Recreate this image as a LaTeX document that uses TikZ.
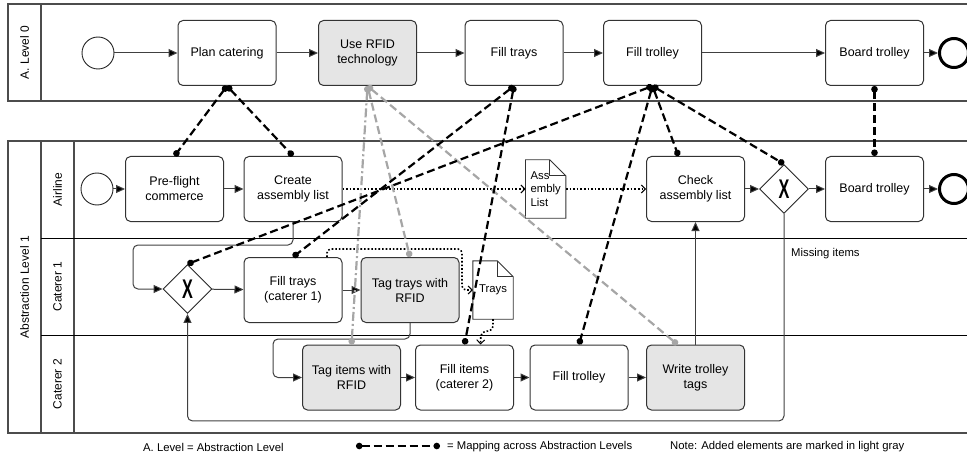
\documentclass[tikz,border=0pt]{standalone}
\usepackage{fontspec}
\usepackage{graphicx}
\setmainfont{Liberation Sans}
\usetikzlibrary{arrows.meta,shapes.geometric}

\begin{document}
\begin{tikzpicture}[x=1pt, y=-1pt,
  task/.style={draw=black!80, line width=1pt, rounded corners=5pt,
    minimum width=98pt, minimum height=65pt, align=center, inner sep=2pt,
    font=\fontsize{12.5}{15}\selectfont},
  added/.style={task, fill=gray!20},
  startev/.style={circle, draw=black!85, line width=0.9pt, minimum size=32pt, inner sep=0pt},
  endev/.style={circle, draw=black, line width=3pt, minimum size=29pt, inner sep=0pt},
  gateway/.style={diamond, draw=black!85, line width=0.9pt, minimum width=49pt,
    minimum height=49pt, inner sep=0pt, font=\fontsize{27}{27}\selectfont},
  docnode/.style={minimum width=40pt, minimum height=58pt, inner sep=4pt,
    font=\fontsize{11.3}{13.5}\selectfont},
  docline/.style={draw=black!80, line width=0.9pt},
  pool/.style={draw=black!70, line width=1.4pt},
  lanelabel/.style={rotate=90, font=\fontsize{12}{14}\selectfont},
  flow/.style={draw=black!75, line width=1pt, rounded corners=5pt,
    -{Triangle[length=9pt,width=8pt,fill=black]}},
  data/.style={line width=1.6pt, dash pattern=on 1.6pt off 2pt, rounded corners=4pt,
    -{Straight Barb[length=4pt,width=8pt,line width=1pt]}},
  map/.style={line width=2.2pt, dash pattern=on 8pt off 4pt,
    {Circle[length=6.5pt]}-{Circle[length=6.5pt]}},
  graymap/.style={map, color=black!35},
  legend/.style={anchor=west, inner sep=0pt, font=\fontsize{11.3}{13}\selectfont},
]

\useasboundingbox (0,0) rectangle (967,468);

% Pools and lanes
\draw[pool] (8,4) rectangle (972,101);
\draw[pool] (41,4) -- (41,101);
\draw[pool] (8,141) rectangle (972,433);
\draw[pool] (41,141) -- (41,433);
\draw[pool] (74,141) -- (74,433);
\draw[black, line width=0.9pt] (41,238) -- (972,238);
\draw[black, line width=0.9pt] (41,335) -- (972,335);

\node[lanelabel] (lvl0) at (24.5,52.5) {A. Level 0};
\node[lanelabel] (lvl1) at (24.5,287) {Abstraction Level 1};
\node[lanelabel] (airline) at (57.5,189.5) {Airline};
\node[lanelabel] (cat1) at (57.5,286.5) {Caterer 1};
\node[lanelabel] (cat2) at (57.5,384) {Caterer 2};

% Level 0
\node[startev] (start0) at (98,53) {};
\node[task] (plan) at (227,53) {Plan catering};
\node[added] (rfid) at (367.5,53) {Use RFID\\technology};
\node[task] (trays0) at (514,53) {Fill trays};
\node[task] (trolley0) at (652.5,53) {Fill trolley};
\node[task] (board0) at (874.5,53) {Board trolley};
\node[endev] (end0) at (954,53) {};

% Level 1, airline
\node[startev] (start1) at (97,189) {};
\node[task] (pre) at (174.5,189) {Pre-flight\\commerce};
\node[task] (create) at (293,189) {Create\\assembly list};
\node[docnode, align=left] (alist) at (545.7,189) {Ass\\embly\\List};
\node[task] (check) at (695.5,189) {Check\\assembly list};
\node[gateway] (gwA) at (784,189) {\scalebox{0.6}[1]{\bfseries X}};
\node[task] (board1) at (874.5,189) {Board trolley};
\node[endev] (end1) at (954,189) {};

% Level 1, caterer 1
\node[gateway] (gwC) at (187.5,289) {\scalebox{0.6}[1]{\bfseries X}};
\node[task] (fill1) at (293,290) {Fill trays\\(caterer 1)};
\node[added] (tagtr) at (410,290) {Tag trays with\\RFID};
\node[docnode] (traysdoc) at (493,290) {Trays};

% Level 1, caterer 2
\node[added] (tagit) at (351.5,377.5) {Tag items with\\RFID};
\node[task] (fillit) at (464.5,377.5) {Fill items\\(caterer 2)};
\node[task] (fillto) at (579,377.5) {Fill trolley};
\node[added] (wtt) at (695.5,377.5) {Write trolley\\tags};

% Document outlines
\foreach \d in {alist, traysdoc} {
  \draw[docline] (\d.north west) -- ([xshift=-16pt]\d.north east)
    -- ([yshift=-16pt]\d.north east) -- (\d.south east) -- (\d.south west) -- cycle;
  \draw[docline] ([xshift=-16pt]\d.north east) -- ++(0,16) -- ++(16,0);
}

% Sequence flows
\draw[flow] (start0) -- (plan);
\draw[flow] (plan) -- (rfid);
\draw[flow] (rfid) -- (trays0);
\draw[flow] (trays0) -- (trolley0);
\draw[flow] (trolley0) -- (board0);
\draw[flow] (board0) -- (end0);

\draw[flow] (start1) -- (pre);
\draw[flow] (pre) -- (create);
\draw[flow] (check) -- (gwA);
\draw[flow] (gwA) -- (board1);
\draw[flow] (board1) -- (end1);

\draw[flow] (create.south) -- ++(0,23) -- ++(-160,0) |- (gwC.west);
\draw[flow] (gwC) -- (fill1);
\draw[flow] (fill1) -- (tagtr);
\draw[flow] (tagtr.south) -- ++(0,16) -- ++(-137,0) |- (tagit.west);
\draw[flow] (tagit) -- (fillit);
\draw[flow] (fillit) -- (fillto);
\draw[flow] (fillto) -- (wtt);
\draw[flow] (wtt.north) -- (check.south);
\draw[flow] (gwA.south) -- ++(0,207) -| (gwC.south);
\node[anchor=west, inner sep=2pt, font=\fontsize{11.3}{13}\selectfont] (missing) at (789,254) {Missing items};

% Data associations
\draw[data] (create) -- (alist);
\draw[data] (alist) -- (check);
\draw[data] ([xshift=34pt]fill1.north) -- ++(0,-8) -- ++(135,0) |- (traysdoc.west);
\draw[data] (traysdoc.south) -- ++(0,11) -- ++(-12,2) -- ([xshift=16pt]fillit.north);

% Mapping across abstraction levels
\draw[graymap, dash pattern=on 9pt off 3pt on 2pt off 3pt] (rfid.south) -- (tagit.north);
\draw[graymap] (rfid.south) -- (tagtr.north);
\draw[graymap] (rfid.south) -- ([xshift=-18pt]wtt.north);

\draw[map] (plan.south) -- (pre.north);
\draw[map] (plan.south) -- (create.north);
\draw[map] (trays0.south) -- (fill1.north);
\draw[map] (trays0.south) -- (fillit.north);
\draw[map] (trolley0.south) -- (gwC.north);
\draw[map] (trolley0.south) -- (fillto.north);
\draw[map] (trolley0.south) -- ([xshift=-17pt]check.north);
\draw[map] (trolley0.south) -- (gwA.north);
\draw[map] (board0.south) -- (board1.north);

% Legend
\node[legend] (legA) at (143,447) {A. Level = Abstraction Level};
\coordinate (mapL) at (356,446);
\coordinate (mapR) at (440,446);
\draw[map, line width=1.8pt] (mapL) -- (mapR);
\node[legend] (legB) at (447,447) {= Mapping across Abstraction Levels};
\node[legend] (legC) at (670,447) {Note: Added elements are marked in light gray};

\end{tikzpicture}
\end{document}
